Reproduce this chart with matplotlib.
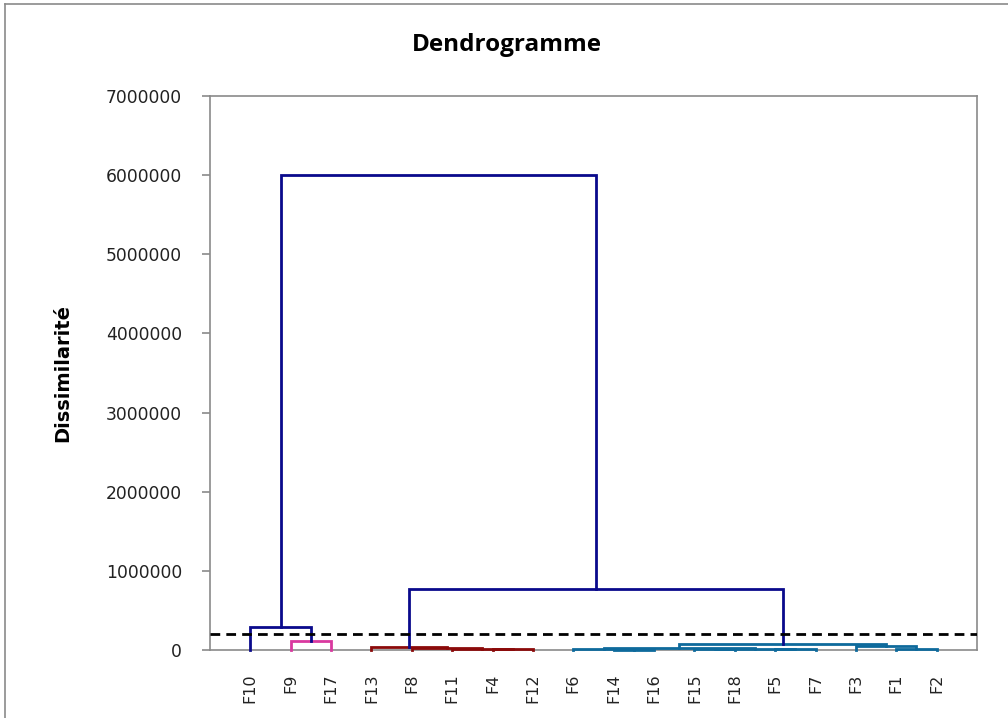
import matplotlib.pyplot as plt
from matplotlib.lines import Line2D

# feuilles dans l'ordre du dendrogramme
feuilles = ['F10', 'F9', 'F17', 'F13', 'F8', 'F11', 'F4', 'F12', 'F6',
            'F14', 'F16', 'F15', 'F18', 'F5', 'F7', 'F3', 'F1', 'F2']

# fusions : enfant a, enfant b, niveau, couleur de la classe
fusion_a = ['F4', 'F11', 'F8', 'F13', 'F9', 'F10', 'F14', 'F6', 'F15', 'F5',
            'm8', 'm7', 'F1', 'F3', 'm11', 'm3', 'm5']
fusion_b = ['F12', 'm0', 'm1', 'm2', 'F17', 'm4', 'F16', 'm6', 'F18', 'F7',
            'm9', 'm10', 'F2', 'm12', 'm13', 'm14', 'm15']
niveaux = [8000, 18000, 30000, 40000, 115000, 285000, 5000, 10000, 8000, 12000,
           15000, 22000, 12000, 45000, 72000, 770000, 6000000]
couleurs = ['red', 'red', 'red', 'red', 'pink', 'navy', 'teal', 'teal', 'teal', 'teal',
            'teal', 'teal', 'teal', 'teal', 'teal', 'navy', 'navy']

troncature = 200000
yticks = [0, 1000000, 2000000, 3000000, 4000000, 5000000, 6000000, 7000000]

palette = {'red': '#8B0A0A', 'pink': '#D9399F', 'navy': '#0A0A8C', 'teal': '#0E6A9C'}
gris = '#8A8A8A'

fig = plt.figure(figsize=(10.08, 7.18), dpi=100)
ax = fig.add_axes([210 / 1008, 1 - 650 / 718, 767 / 1008, 554 / 718])

# positions et hauteurs des noeuds
pos = {f: i + 1 for i, f in enumerate(feuilles)}
haut = {f: 0 for f in feuilles}
for k in range(len(niveaux)):
    a, b, h = fusion_a[k], fusion_b[k], niveaux[k]
    c = palette[couleurs[k]]
    xa, xb = pos[a], pos[b]
    ax.plot([xa, xa, xb, xb], [haut[a], h, h, haut[b]], color=c, lw=2,
            solid_joinstyle='miter', clip_on=False, zorder=3)
    pos['m%d' % k] = (xa + xb) / 2
    haut['m%d' % k] = h

ax.axhline(troncature, color='black', lw=2, ls=(0, (3.5, 2.2)), zorder=4)

ax.set_xlim(0, len(feuilles) + 1)
ax.set_ylim(0, 7000000)
ax.set_yticks(yticks)
ax.set_yticklabels([str(v) for v in yticks], fontsize=12.3, color='#222222')
ax.set_xticks([pos[f] for f in feuilles])
ax.set_xticklabels(feuilles, rotation=90, fontsize=11.5,
                   family=['Liberation Sans Narrow', 'DejaVu Sans'], color='#222222')
ax.tick_params(axis='x', length=0, pad=17)
ax.tick_params(axis='y', length=6, color=gris, width=1.2, pad=14)
for s in ax.spines.values():
    s.set_color(gris)
    s.set_linewidth(1.2)

ax.set_ylabel('Dissimilarité', fontsize=14, fontweight='bold',
              family=['Liberation Sans Narrow', 'DejaVu Sans'], labelpad=24)
fig.text(507 / 1008, 1 - 45 / 718, 'Dendrogramme', ha='center', va='center',
         fontsize=17.5, fontweight='bold', family=['Open Sans', 'DejaVu Sans'])

# cadre du graphique
fig.add_artist(Line2D([5 / 1008, 5 / 1008], [0, 1 - 4 / 718], color=gris, lw=1.2))
fig.add_artist(Line2D([5 / 1008, 1], [1 - 4 / 718, 1 - 4 / 718], color=gris, lw=1.2))

fig.savefig('out.png', dpi=100)
